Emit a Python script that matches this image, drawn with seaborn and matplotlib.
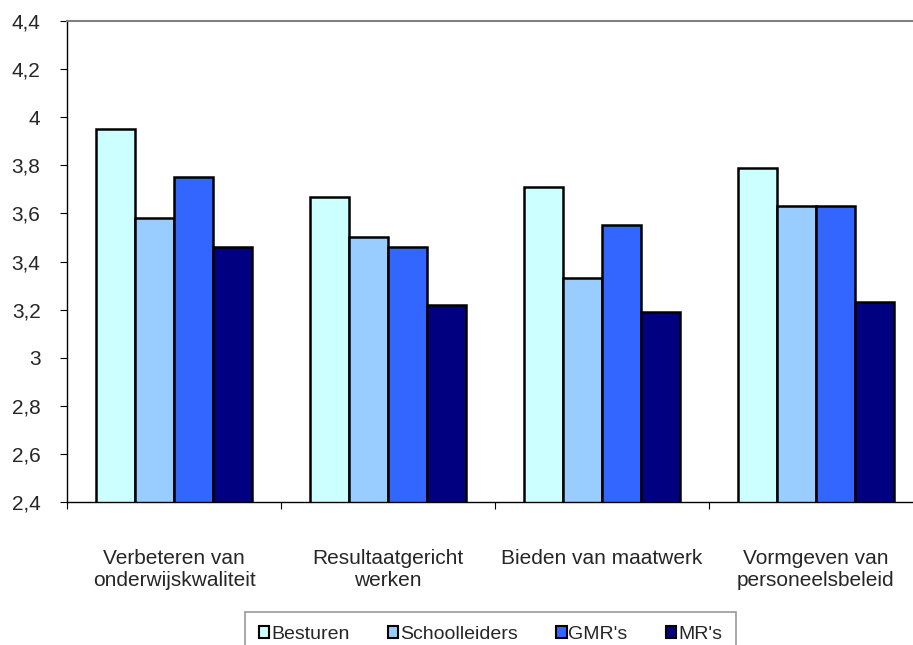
import pandas as pd
import matplotlib
matplotlib.use("Agg")
import matplotlib.pyplot as plt
import seaborn as sns

categories = ["Verbeteren van\nonderwijskwaliteit", "Resultaatgericht\nwerken",
              "Bieden van maatwerk", "Vormgeven van\npersoneelsbeleid"]
groups = ["Besturen", "Schoolleiders", "GMR's", "MR's"]
besturen = [3.95, 3.67, 3.71, 3.79]
schoolleiders = [3.58, 3.50, 3.33, 3.63]
gmrs = [3.75, 3.46, 3.55, 3.63]
mrs = [3.46, 3.22, 3.19, 3.23]
colors = ["#CCFFFF", "#99CCFF", "#3366FF", "#000080"]

rows = []
for name, vals in zip(groups, [besturen, schoolleiders, gmrs, mrs]):
    for cat, v in zip(categories, vals):
        rows.append({"Categorie": cat, "Groep": name, "Score": v})
df = pd.DataFrame(rows)

sns.set_style("white")
plt.rcParams["font.family"] = ["Liberation Sans", "DejaVu Sans"]

fig = plt.figure(figsize=(9.13, 6.45), dpi=100)
ax = fig.add_axes([67 / 913, 1 - 502 / 645, 856 / 913, 481 / 645])

sns.barplot(data=df, x="Categorie", y="Score", hue="Groep", order=categories,
            hue_order=groups, palette=colors, saturation=1, width=0.73, gap=0,
            edgecolor="black", linewidth=1.8, ax=ax, legend=False)

ax.set_ylim(2.4, 4.4)
ax.set_yticks([2.4 + 0.2 * i for i in range(11)])
ax.set_yticklabels([f"{2.4 + 0.2 * i:.1f}".replace(".0", "").replace(".", ",")
                    for i in range(11)], fontsize=15)
ax.set_xlim(-0.5, 3.5)
ax.set_xticks([-0.5, 0.5, 1.5, 2.5, 3.5])
ax.set_xticklabels([])
ax.set_xticks(range(4), minor=True)
ax.set_xticklabels(categories, minor=True, fontsize=15, linespacing=1.2)
ax.tick_params(axis="x", which="minor", length=0, pad=34)
ax.tick_params(axis="x", which="major", direction="out", length=5, color="black", bottom=True)
ax.tick_params(axis="y", direction="out", length=5, color="black", left=True, pad=14)
ax.set_xlabel("")
ax.set_ylabel("")

for side in ["left", "bottom"]:
    ax.spines[side].set_color("black")
    ax.spines[side].set_linewidth(1)
ax.spines["top"].set_color("#808080")
ax.spines["top"].set_linewidth(1.5)
ax.spines["right"].set_visible(False)

handles = [plt.Rectangle((0, 0), 1, 1, facecolor=c, edgecolor="black", linewidth=1.5)
           for c in colors]
leg = fig.legend(handles, groups, loc="upper left", bbox_to_anchor=(245 / 913, 1 - 612 / 645),
                 ncol=4, fontsize=14, frameon=True, fancybox=False,
                 handlelength=0.55, handleheight=0.55, handletextpad=0.1,
                 columnspacing=1.95, borderpad=0.7, borderaxespad=0)
leg.get_frame().set_edgecolor("#808080")
leg.get_frame().set_linewidth(1.2)

fig.savefig("out.png", dpi=100)
